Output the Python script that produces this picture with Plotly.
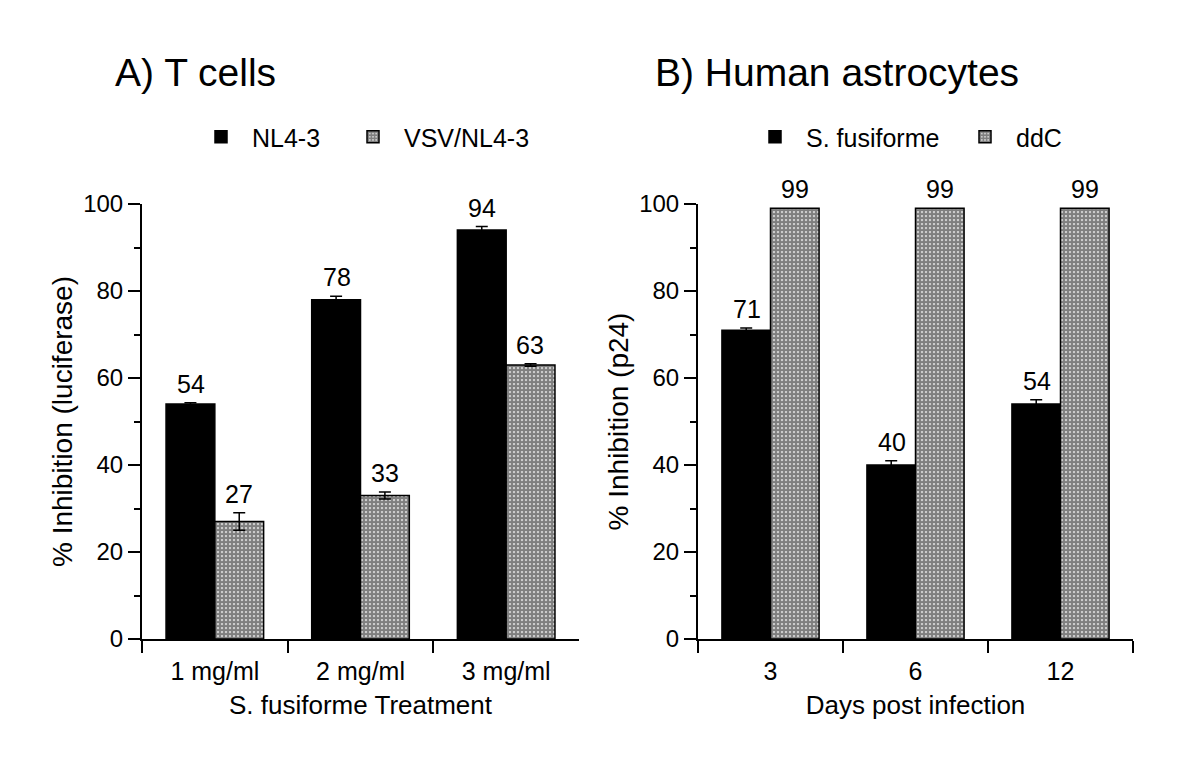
import plotly.graph_objects as go

# Data
cats_a = ["1 mg/ml", "2 mg/ml", "3 mg/ml"]
nl43 = [54, 78, 94]
nl43_err = [0.3, 0.8, 0.8]
vsv = [27, 33, 63]
vsv_err = [2.0, 0.8, 0.3]

cats_b = ["3", "6", "12"]
sfus = [71, 40, 54]
sfus_err = [0.5, 1.0, 1.0]
ddc = [99, 99, 99]
ddc_err = [0, 0, 0]

W, H = 1200, 767
FONT = "Liberation Sans, Arial, sans-serif"

def px_x(a, b):
    return [a / W, b / W]

def py(y):
    return (H - y) / H

ydom = [py(639), py(204)]

pat = dict(shape=".", fgcolor="black", bgcolor="white", size=4, solidity=0.8)
err_style = dict(type="data", color="black", thickness=1.5, width=6)
solid = dict(color="black", line=dict(color="black", width=1.5))
hatched = dict(color="white", pattern=pat, line=dict(color="black", width=1.5))

fig = go.Figure()

fig.add_trace(go.Bar(x=cats_a, y=nl43, name="NL4-3", xaxis="x", yaxis="y", marker=solid,
                     error_y=dict(array=nl43_err, **err_style), legend="legend"))
fig.add_trace(go.Bar(x=cats_a, y=vsv, name="VSV/NL4-3", xaxis="x", yaxis="y", marker=hatched,
                     error_y=dict(array=vsv_err, **err_style), legend="legend2"))
fig.add_trace(go.Bar(x=cats_b, y=sfus, name="S. fusiforme", xaxis="x2", yaxis="y2", marker=solid,
                     error_y=dict(array=sfus_err, **err_style), legend="legend3"))
fig.add_trace(go.Bar(x=cats_b, y=ddc, name="ddC", xaxis="x2", yaxis="y2", marker=hatched,
                     error_y=dict(array=ddc_err, visible=False), legend="legend4"))

LBL = 25
annotations = []
def add_labels(vals, errs, xref, yref, offset):
    # x given as category index so numeric-looking category names work too
    for i, (v, e) in enumerate(zip(vals, errs)):
        annotations.append(dict(x=i, y=v + e, xref=xref, yref=yref, text=str(v),
                                showarrow=False, yanchor="bottom", yshift=3,
                                xshift=offset, font=dict(size=LBL, color="black", family=FONT)))

add_labels(nl43, nl43_err, "x", "y", -24)
add_labels(vsv, vsv_err, "x", "y", 24)
add_labels(sfus, sfus_err, "x2", "y2", -24)
add_labels(ddc, ddc_err, "x2", "y2", 24)

annotations.append(dict(text="A) T cells", x=113 / W, y=py(72), xref="paper", yref="paper",
                        xanchor="left", yanchor="middle", showarrow=False,
                        font=dict(size=39, color="black", family=FONT)))
annotations.append(dict(text="B) Human astrocytes", x=653 / W, y=py(72), xref="paper", yref="paper",
                        xanchor="left", yanchor="middle", showarrow=False,
                        font=dict(size=39, color="black", family=FONT)))

axis_common = dict(showline=True, linecolor="black", linewidth=2, ticks="outside",
                   tickcolor="black", tickwidth=2, ticklen=12,
                   tickfont=dict(size=24, color="black", family=FONT),
                   showgrid=False, zeroline=False)

yaxis_common = dict(axis_common, range=[0, 100], tickvals=[0, 20, 40, 60, 80, 100],
                    ticklabelstandoff=0,
                    minor=dict(tickvals=[10, 30, 50, 70, 90], ticks="outside", ticklen=6,
                               tickcolor="black", tickwidth=1.5))

xaxis_common = dict(axis_common, type="category", tickson="boundaries", range=[-0.5, 2.5],
                    ticklabelstandoff=9,
                    tickfont=dict(size=25, color="black", family=FONT))

def leg(xpix):
    return dict(orientation="h", x=xpix / W, y=py(137), xanchor="left", yanchor="middle",
                font=dict(size=25, family=FONT), bgcolor="rgba(0,0,0,0)", itemwidth=52)

fig.update_layout(
    width=W, height=H,
    margin=dict(l=0, r=0, t=0, b=0, pad=0, autoexpand=False),
    paper_bgcolor="white", plot_bgcolor="white",
    barmode="group", bargap=0.33, bargroupgap=0,
    font=dict(family=FONT, color="black"),
    xaxis=dict(xaxis_common, domain=px_x(142, 579), anchor="y",
               title=dict(text="S. fusiforme Treatment", font=dict(size=26, family=FONT), standoff=12)),
    yaxis=dict(yaxis_common, domain=ydom, anchor="x",
               title=dict(text="% Inhibition (luciferase)", font=dict(size=28, family=FONT), standoff=2)),
    xaxis2=dict(xaxis_common, domain=px_x(698, 1133), anchor="y2",
                title=dict(text="Days post infection", font=dict(size=26, family=FONT), standoff=12)),
    yaxis2=dict(yaxis_common, domain=ydom, anchor="x2",
                title=dict(text="% Inhibition (p24)", font=dict(size=28, family=FONT), standoff=2)),
    legend=leg(190), legend2=leg(342), legend3=leg(744), legend4=leg(954),
    annotations=annotations,
    showlegend=True,
)

fig.write_html("out.html", post_script="document.body.style.margin='0';",
               config={"displayModeBar": False})
